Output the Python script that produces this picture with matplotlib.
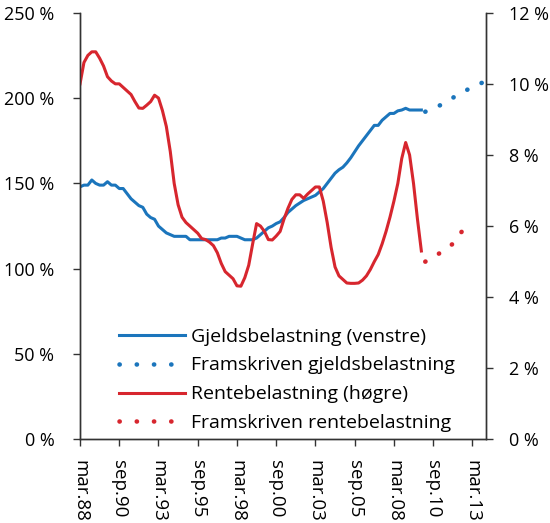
import matplotlib.pyplot as plt
from matplotlib.lines import Line2D
import numpy as np

plt.rcParams['font.family'] = ['Open Sans', 'DejaVu Sans']

BLUE = '#1b75bc'
RED = '#d7262e'
SPINE = '#333333'

# gjeldsbelastning, prosent (venstre akse), kvartal fra mar.88
debt = [148, 149, 149, 152, 150, 149, 149, 151, 149, 149,
        147, 147, 144, 141, 139, 137, 136, 132, 130, 129,
        125, 123, 121, 120, 119, 119, 119, 119, 117, 117,
        117, 117, 117, 117, 117, 117, 118, 118, 119, 119,
        119, 118, 117, 117, 117, 118, 120, 122, 124, 125,
        126.5, 127.5, 130, 133, 135, 137, 138.5, 140, 141, 142,
        143, 145, 147, 150, 153, 156, 158, 159.5, 162, 165,
        168.5, 172, 175, 178, 181, 184, 184, 187, 189, 191,
        191, 192.5, 193, 194, 193, 193, 193, 193]

# rentebelastning, prosent (høgre akse)
rate = [10.0, 10.6, 10.8, 10.9, 10.9, 10.72, 10.5, 10.2, 10.08, 10.0,
        10.0, 9.9, 9.8, 9.7, 9.5, 9.32, 9.31, 9.4, 9.5, 9.68,
        9.6, 9.25, 8.8, 8.1, 7.2, 6.6, 6.25, 6.1, 6.0, 5.9,
        5.8, 5.65, 5.62, 5.55, 5.45, 5.25, 4.95, 4.72, 4.62, 4.52,
        4.32, 4.31, 4.55, 4.9, 5.5, 6.07, 6.0, 5.85, 5.62, 5.61,
        5.72, 5.85, 6.2, 6.5, 6.75, 6.88, 6.88, 6.78, 6.9, 7.0,
        7.1, 7.1, 6.7, 6.1, 5.4, 4.85, 4.6, 4.5, 4.4, 4.39,
        4.39, 4.4, 4.48, 4.6, 4.78, 5.0, 5.2, 5.5, 5.85, 6.25,
        6.7, 7.2, 7.9, 8.35, 8.0, 7.2, 6.2, 5.3]

# framskrivinger
proj_q_debt = [88, 92, 96, 100, 103]
proj_debt = [192, 196, 201.5, 206.5, 209.5]
proj_q_rate = [88, 92, 95, 98]
proj_rate = [5.0, 5.26, 5.5, 5.95]

tick_q = [0, 10, 20, 30, 40, 50, 60, 70, 80, 90, 100]
tick_labels = ['mar.88', 'sep.90', 'mar.93', 'sep.95', 'mar.98', 'sep.00',
               'mar.03', 'sep.05', 'mar.08', 'sep.10', 'mar.13']

labels = ['Gjeldsbelastning (venstre)', 'Framskriven gjeldsbelastning',
          'Rentebelastning (høgre)', 'Framskriven rentebelastning']

fig = plt.figure(figsize=(5.5, 5.23), dpi=100)
ax = fig.add_axes([0.1455, 0.1597, 0.7376, 0.816])
ax2 = ax.twinx()

q = np.arange(len(debt))
dots = (0, (0.05, 3.4))
ax.plot(q, debt, color=BLUE, lw=2.2)
ax.plot(proj_q_debt, proj_debt, color=BLUE, lw=3.3, linestyle=dots,
        dash_capstyle='round')
ax2.plot(np.arange(len(rate)), rate, color=RED, lw=2.2)
ax2.plot(proj_q_rate, proj_rate, color=RED, lw=3.3, linestyle=dots,
         dash_capstyle='round')

ax.set_xlim(0, 103.4)
ax.set_ylim(0, 250)
ax2.set_ylim(0, 12)
ax.set_yticks(range(0, 251, 50))
ax.set_yticklabels([f'{v} %' for v in range(0, 251, 50)])
ax2.set_yticks(range(0, 13, 2))
ax2.set_yticklabels([f'{v} %' for v in range(0, 13, 2)])
ax.set_xticks(tick_q)
ax.set_xticklabels(tick_labels, rotation=-90, va='top', ha='center')

for a in (ax, ax2):
    a.spines['top'].set_visible(False)
    for s in ('left', 'right', 'bottom'):
        a.spines[s].set_color(SPINE)
        a.spines[s].set_linewidth(1.0)
ax.tick_params(axis='x', length=5, width=1, colors=SPINE, labelcolor='black',
               labelsize=13.5, pad=9.5)
ax.tick_params(axis='y', length=5, width=1, colors=SPINE, labelcolor='black',
               labelsize=13, pad=13.5)
ax2.tick_params(axis='y', length=5, width=1, colors=SPINE, labelcolor='black',
                labelsize=13, pad=12)

# egne figurer i forklaringen, slik at det blir fire prikker
leg_dots = (0, (0.05, 3.71))
handles = [
    Line2D([], [], color=BLUE, lw=2.2),
    Line2D([], [], color=BLUE, lw=3.3, linestyle=leg_dots, dash_capstyle='round'),
    Line2D([], [], color=RED, lw=2.2),
    Line2D([], [], color=RED, lw=3.3, linestyle=leg_dots, dash_capstyle='round'),
]
ax2.legend(handles, labels,
           loc='lower left', bbox_to_anchor=(0.097, 0.017), frameon=False,
           borderpad=0, borderaxespad=0, handlelength=3.38, handletextpad=0.29,
           labelspacing=0.56, fontsize=14)

fig.savefig('out.png', dpi=100)
